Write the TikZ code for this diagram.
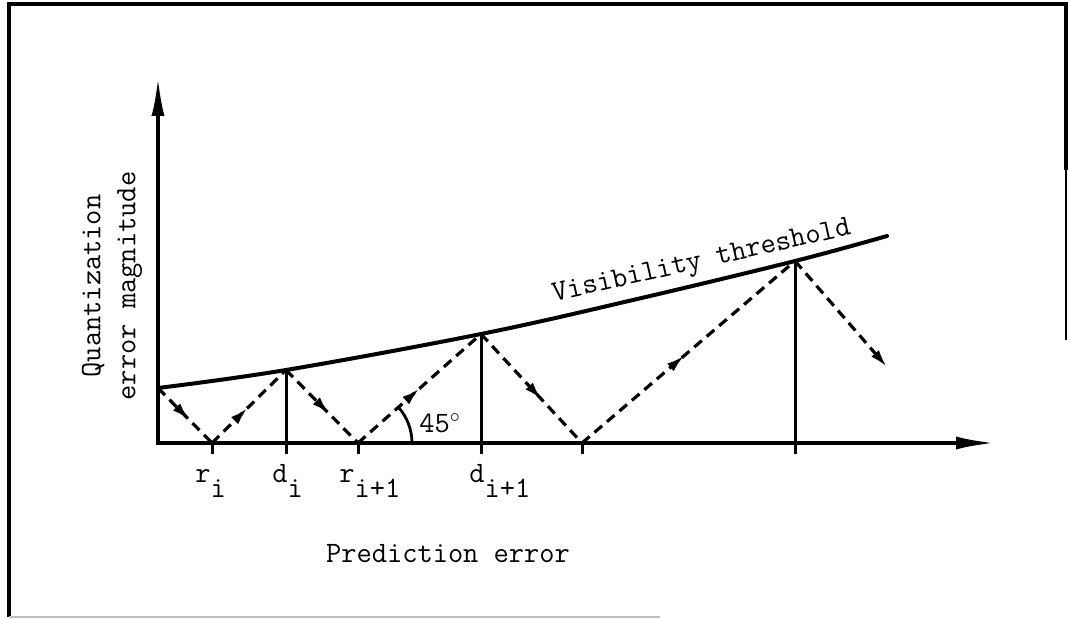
\documentclass[tikz,border=0pt]{standalone}
\usepackage{fontspec}
\usetikzlibrary{arrows.meta,decorations.markings,angles}
\tikzset{
  axes/.style={line width=2pt,
    {Latex[length=20pt, width=6.5pt]}-{Latex[length=20pt, width=6.5pt]}},
  threshold/.style={line width=2pt, line cap=round},
  levelline/.style={line width=1.5pt},
  tickmark/.style={line width=1.5pt},
  zigzag/.style={line width=1.6pt, dash pattern=on 5pt off 3.2pt},
  midarrow/.style={postaction={decorate, decoration={markings,
    mark=at position #1 with {\arrow{Latex[length=9pt, width=5pt]}}}}},
  midarrow/.default=0.5,
  endarrow/.style={-{Latex[length=9pt, width=5pt]}},
  lbl/.style={inner sep=0pt, font=\ttfamily\fontsize{14.8}{17.5}\selectfont},
  framebox/.style={line width=2pt},
}

\begin{document}
\begin{tikzpicture}[x=0.5pt, y=-0.5pt]
\useasboundingbox (0,0) rectangle (1070,619);

\def\yax{443}   % Hoehe der Abszisse
\def\tick{11}   % Laenge der Teilstriche

% ── Rahmen ─────────────────────────────────────────────────────────────────
\draw[framebox] (9,617) -- (9,4) -- (1066,4) -- (1066,170);
\draw[line width=1pt] (1066,170) -- (1066,340);
\draw[black!25, line width=0.8pt] (9,617) -- (660,617);

% ── Stuetzpunkte ───────────────────────────────────────────────────────────
\coordinate (O)    at (158,\yax);
\coordinate (Ytip) at (158,76);
\coordinate (Xtip) at (996,\yax);
\coordinate (r1) at (212,\yax);
\coordinate (d1) at (286,\yax);
\coordinate (r2) at (358,\yax);
\coordinate (d2) at (481,\yax);
\coordinate (r3) at (582,\yax);
\coordinate (d3) at (795,\yax);
\coordinate (t0)   at (158,388);
\coordinate (t1)   at (286,370);
\coordinate (t2)   at (481,334);
\coordinate (t3)   at (795,261);
\coordinate (tend) at (887,236);
\coordinate (zend) at (887,367);

% ── Achsen ─────────────────────────────────────────────────────────────────
\draw[axes] (Ytip) -- (O) -- (Xtip);
\foreach \p in {r1,d1,r2,d2,r3,d3}
  \draw[tickmark] (\p) -- ++(0,\tick);

% ── Sichtbarkeitsschwelle ──────────────────────────────────────────────────
\draw[threshold] plot[smooth, tension=0.6]
  coordinates {(t0) (t1) (t2) (633,300) (t3) (tend)};
\draw[levelline] (d1) -- (t1);
\draw[levelline] (d2) -- (t2);
\draw[levelline] (d3) -- (t3);

% ── Zickzack unter 45 Grad ─────────────────────────────────────────────────
\draw[zigzag, midarrow=0.58] (t0) -- (r1);
\draw[zigzag, midarrow=0.48] (r1) -- (t1);
\draw[zigzag, midarrow=0.6] (t1) -- (r2);
\draw[zigzag, midarrow=0.5] (r2) -- (t2);
\draw[zigzag, midarrow=0.6] (t2) -- (r3);
\draw[zigzag, midarrow=0.48] (r3) -- (t3);
\draw[zigzag, endarrow] (t3) -- (zend);
\pic[draw, line width=1.4pt, angle radius=27pt] {angle=Xtip--r2--t2};

% ── Beschriftung ───────────────────────────────────────────────────────────
\node[lbl, anchor=base west] (lr1) at (195,483) {r\raisebox{-7.5pt}{i}};
\node[lbl, anchor=base west] (ld1) at (272,483) {d\raisebox{-7.5pt}{i}};
\node[lbl, anchor=base west] (lr2) at (339,483) {r\raisebox{-7.5pt}{i+1}};
\node[lbl, anchor=base west] (ld2) at (469,483) {d\raisebox{-7.5pt}{i+1}};
\node[lbl, anchor=base west] (ang) at (419,433) {45$^{\circ}$};
\node[lbl, anchor=base, rotate=12.7] (vis) at (703,268) {Visibility threshold};
\node[lbl, anchor=base] (xlab) at (448,562) {Prediction error};
\node[lbl, rotate=90, align=center] (ylab) at (112,286)
  {Quantization\\error magnitude};

\end{tikzpicture}
\end{document}
